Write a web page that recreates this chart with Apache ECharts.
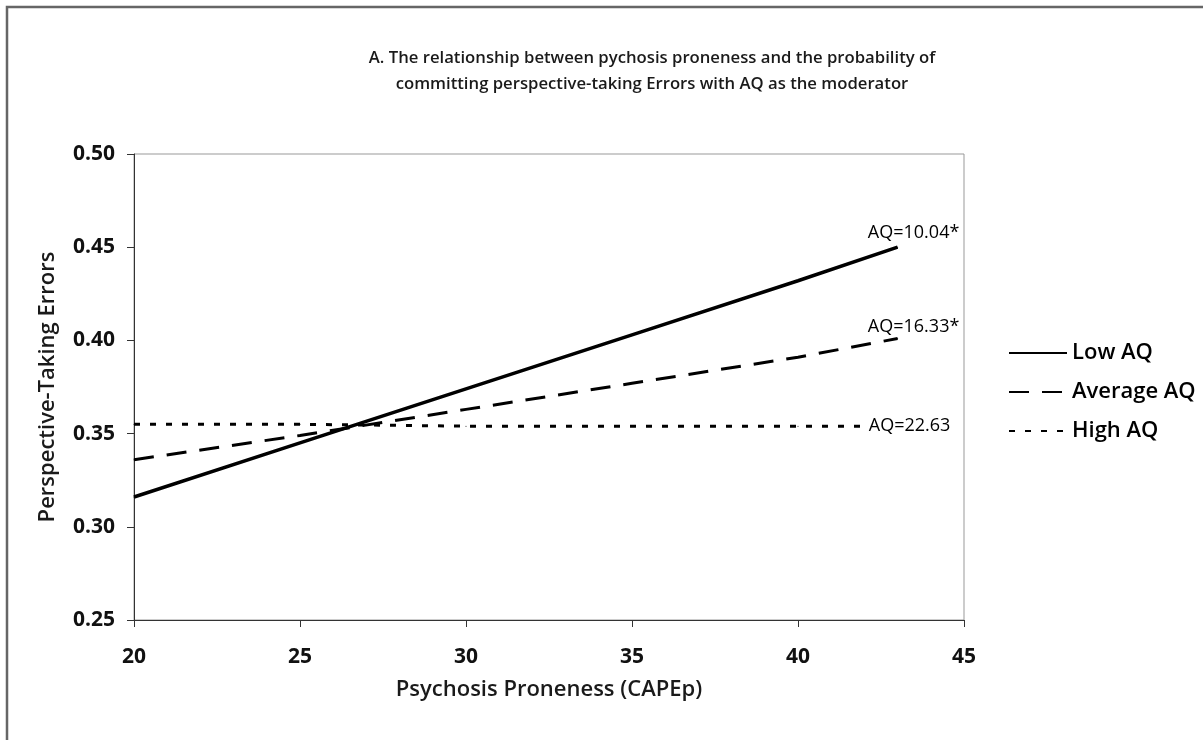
<!DOCTYPE html>
<html><head><meta charset="utf-8">
<script src="https://cdn.jsdelivr.net/npm/echarts@6/dist/echarts.min.js"></script>
<style>html,body{margin:0;padding:0;background:#fff}#c{width:1203px;height:740px}</style>
</head><body><div id="c"></div>
<script>
const xValues = [20, 25, 30, 35, 40, 43];
const lowAQ = [0.316, 0.345, 0.374, 0.403, 0.432, 0.450];
const averageAQ = [0.336, 0.349, 0.363, 0.377, 0.391, 0.401];
const highAQ = [0.355, 0.355, 0.354, 0.354, 0.354, 0.354];
const seriesNames = ['Low AQ', 'Average AQ', 'High AQ'];
const endLabels = ['AQ=10.04*', 'AQ=16.33*', 'AQ=22.63'];
const titleLines = ['A. The relationship between pychosis proneness and the probability of', 'committing perspective-taking Errors with AQ as the moderator'];
const xAxisName = 'Psychosis Proneness (CAPEp)';
const yAxisName = 'Perspective-Taking Errors';

const FONT = '"Open Sans", "Noto Sans", sans-serif';
const chart = echarts.init(document.getElementById('c'), null, {renderer: 'canvas'});

function build(vals, labelText, labelPos) {
  return vals.map((v, i) => {
    const item = {value: [xValues[i], v]};
    if (i === vals.length - 1) {
      item.label = Object.assign({show: true, formatter: labelText, color: '#000', opacity: 1, fontFamily: FONT, fontSize: 18}, labelPos);
    }
    return item;
  });
}
const styles = [
  {type: 'solid', width: 3.5},
  {type: [20, 13], width: 3},
  {type: [6, 10], width: 3}
];
const labelPositions = [
  {position: 'top', offset: [16, 0]},
  {position: 'top', offset: [16, 3]},
  {position: 'inside', offset: [12, 0], backgroundColor: '#fff', padding: [0, 2]}
];
const data = [lowAQ, averageAQ, highAQ];

chart.setOption({
  animation: false,
  backgroundColor: '#fff',
  title: {
    text: titleLines.join('\n'),
    left: 647, top: 40, textAlign: 'center',
    textStyle: {fontFamily: FONT, fontSize: 16.7, fontWeight: 600, color: '#1a1a1a', lineHeight: 26}
  },
  graphic: [{type: 'rect', shape: {x: 7, y: 7, width: 1300, height: 900}, style: {fill: 'none', stroke: '#666', lineWidth: 2.5}, silent: true}],
  legend: {
    orient: 'vertical', left: 1003, top: 335, itemWidth: 58, itemHeight: 14, itemGap: 13,
    itemStyle: {opacity: 0},
    textStyle: {fontFamily: FONT, fontSize: 22, fontWeight: 600, color: '#000', lineHeight: 26},
    data: seriesNames
  },
  grid: {left: 134, right: 239, top: 154, bottom: 120, show: true, borderColor: '#999', borderWidth: 1},
  xAxis: {
    type: 'value', min: 20, max: 45, interval: 5,
    name: xAxisName, nameLocation: 'middle', nameGap: 59,
    nameTextStyle: {fontFamily: FONT, fontSize: 22, fontWeight: 600, color: '#1a1a1a'},
    axisLine: {lineStyle: {color: '#333', width: 1}},
    axisTick: {show: true, length: 7, lineStyle: {color: '#333'}},
    axisLabel: {fontFamily: FONT, fontSize: 21, fontWeight: 'bold', color: '#111', margin: 27},
    splitLine: {show: false}
  },
  yAxis: {
    type: 'value', min: 0.25, max: 0.5, interval: 0.05,
    name: yAxisName, nameLocation: 'middle', nameGap: 75, nameRotate: 90,
    nameTextStyle: {fontFamily: FONT, fontSize: 22, fontWeight: 600, color: '#1a1a1a'},
    axisLine: {show: true, lineStyle: {color: '#333', width: 1}},
    axisTick: {show: true, length: 7, lineStyle: {color: '#333'}},
    axisLabel: {fontFamily: FONT, fontSize: 21, fontWeight: 'bold', color: '#111', margin: 19, formatter: v => v.toFixed(2)},
    splitLine: {show: false}
  },
  series: data.map((vals, k) => ({
    name: seriesNames[k], type: 'line', symbol: 'circle', symbolSize: 1, showSymbol: true,
    lineStyle: Object.assign({color: '#000', cap: 'butt'}, styles[k]),
    itemStyle: {color: '#000'},
    data: build(vals, endLabels[k], labelPositions[k])
  }))
});
</script></body></html>
